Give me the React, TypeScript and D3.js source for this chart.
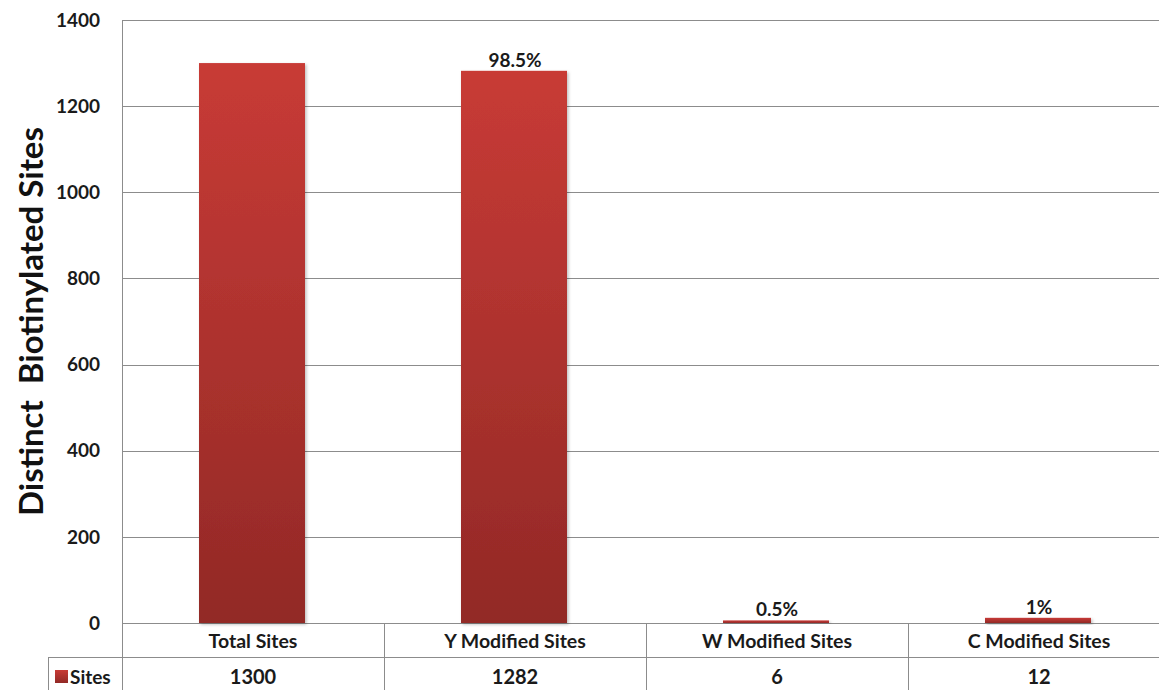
import React, { useEffect, useRef } from "react";
import * as d3 from "d3";

const categories = ["Total Sites", "Y Modified Sites", "W Modified Sites", "C Modified Sites"];
const sites = [1300, 1282, 6, 12];
const pctLabels = ["", "98.5%", "0.5%", "1%"];
const yTicks = [0, 200, 400, 600, 800, 1000, 1200, 1400];
const seriesName = "Sites";

const App = () => {
  const svgRef = useRef<SVGSVGElement>(null);
  const width = 1159;
  const height = 690;

  useEffect(() => {
    const svg = d3.select(svgRef.current);
    svg.selectAll("*").remove();

    const left = 122, top = 20, zeroY = 623, bandW = 262;
    const font = "Lato, 'Open Sans', sans-serif";
    const ink = "#1a1a1a";

    const x = d3.scaleBand()
      .domain(categories)
      .range([left, left + bandW * categories.length])
      .paddingInner(0)
      .paddingOuter(0);
    const y = d3.scaleLinear().domain([0, 1400]).range([zeroY, top]);

    const defs = svg.append("defs");
    const grad = defs.append("linearGradient")
      .attr("id", "barGrad")
      .attr("x1", 0).attr("y1", 0).attr("x2", 0).attr("y2", 1);
    grad.append("stop").attr("offset", "0%").attr("stop-color", "#c83b36");
    grad.append("stop").attr("offset", "100%").attr("stop-color", "#922926");
    const shadow = defs.append("filter").attr("id", "shadow")
      .attr("x", "-10%").attr("y", "-10%").attr("width", "130%").attr("height", "130%");
    shadow.append("feDropShadow")
      .attr("dx", 1.5).attr("dy", 1.5).attr("stdDeviation", 1.5)
      .attr("flood-color", "#000").attr("flood-opacity", 0.25);

    // gridlines
    svg.append("g")
      .selectAll("line")
      .data(yTicks)
      .join("line")
      .attr("x1", left)
      .attr("x2", width)
      .attr("y1", (d) => Math.round(y(d)) + 0.5)
      .attr("y2", (d) => Math.round(y(d)) + 0.5)
      .attr("stroke", "#8c8c8c")
      .attr("stroke-width", 1);

    // y tick labels
    svg.append("g")
      .selectAll("text")
      .data(yTicks)
      .join("text")
      .attr("x", 100)
      .attr("y", (d) => y(d))
      .attr("dy", "0.35em")
      .attr("text-anchor", "end")
      .attr("font-family", font)
      .attr("font-weight", 700)
      .attr("font-size", 19)
      .attr("fill", ink)
      .text((d) => d);

    // bars
    const barW = 106;
    svg.append("g")
      .selectAll("rect")
      .data(sites)
      .join("rect")
      .attr("x", (d, i) => x(categories[i])! + (x.bandwidth() - barW) / 2 - 1)
      .attr("width", barW)
      .attr("y", (d) => y(d))
      .attr("height", (d) => zeroY - y(d))
      .attr("fill", "url(#barGrad)")
      .style("filter", "url(#shadow)");

    // percent labels
    svg.append("g")
      .selectAll("text")
      .data(pctLabels)
      .join("text")
      .attr("x", (d, i) => x(categories[i])! + x.bandwidth() / 2)
      .attr("y", (d, i) => y(sites[i]) - 4)
      .attr("text-anchor", "middle")
      .attr("font-family", font)
      .attr("font-weight", 700)
      .attr("font-size", 19)
      .attr("fill", ink)
      .text((d) => d);

    // data table lines
    const tableRow = 657;
    const g = svg.append("g").attr("stroke", "#8c8c8c").attr("stroke-width", 1);
    g.append("line").attr("x1", left + 0.5).attr("x2", left + 0.5).attr("y1", top).attr("y2", height);
    g.append("line").attr("x1", 48.5).attr("x2", width).attr("y1", tableRow + 0.5).attr("y2", tableRow + 0.5);
    g.append("line").attr("x1", 48.5).attr("x2", 48.5).attr("y1", tableRow).attr("y2", height);
    g.selectAll(".div")
      .data(categories.slice(1))
      .join("line")
      .attr("class", "div")
      .attr("x1", (d) => Math.round(x(d)!) + 0.5)
      .attr("x2", (d) => Math.round(x(d)!) + 0.5)
      .attr("y1", zeroY)
      .attr("y2", height);

    // category labels
    svg.append("g")
      .selectAll("text")
      .data(categories)
      .join("text")
      .attr("x", (d) => x(d)! + x.bandwidth() / 2)
      .attr("y", 641)
      .attr("dy", "0.35em")
      .attr("text-anchor", "middle")
      .attr("font-family", font)
      .attr("font-weight", 700)
      .attr("font-size", 19.5)
      .attr("fill", ink)
      .text((d) => d);

    // values row
    svg.append("g")
      .selectAll("text")
      .data(sites)
      .join("text")
      .attr("x", (d, i) => x(categories[i])! + x.bandwidth() / 2)
      .attr("y", 677)
      .attr("dy", "0.35em")
      .attr("text-anchor", "middle")
      .attr("font-family", font)
      .attr("font-weight", 700)
      .attr("font-size", 20)
      .attr("fill", ink)
      .text((d) => d);

    // legend key
    svg.append("rect")
      .attr("x", 55).attr("y", 670).attr("width", 13).attr("height", 13)
      .attr("fill", "url(#barGrad)");
    svg.append("text")
      .attr("x", 70).attr("y", 677).attr("dy", "0.35em")
      .attr("font-family", font).attr("font-weight", 700).attr("font-size", 19)
      .attr("fill", ink)
      .text(seriesName);

    // y axis title
    svg.append("text")
      .attr("transform", `translate(43, ${(top + zeroY) / 2}) rotate(-90)`)
      .attr("text-anchor", "middle")
      .attr("font-family", font)
      .attr("font-weight", 700)
      .attr("font-size", 33)
      .attr("fill", "#111")
      .style("white-space", "pre")
      .text("Distinct  Biotinylated Sites");
  }, []);

  return (
    <svg
      ref={svgRef}
      width={width}
      height={height}
      style={{ position: "absolute", left: 0, top: 0, background: "#fff" }}
    />
  );
};

export default App;
